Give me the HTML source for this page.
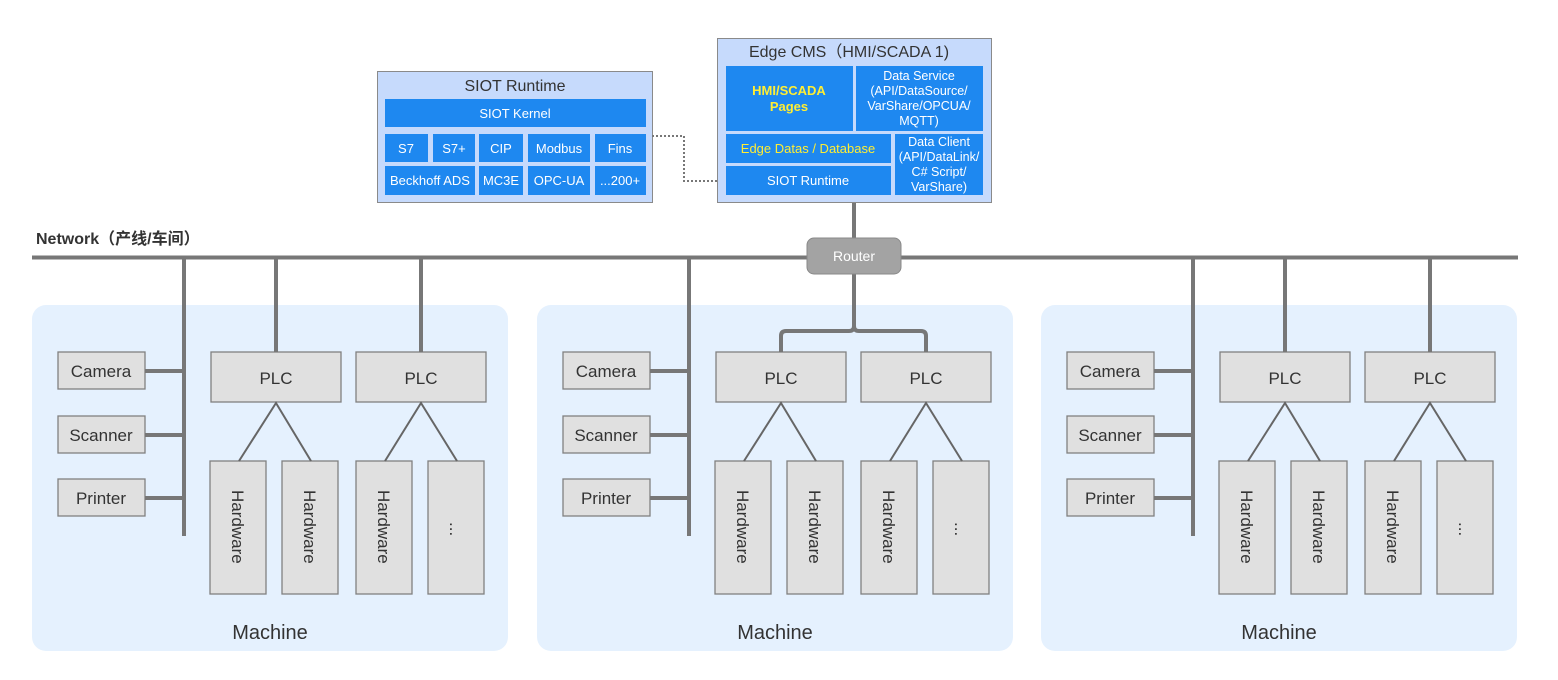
<!DOCTYPE html>
<html><head><meta charset="utf-8"><style>
html,body{margin:0;padding:0;background:#fff;}
svg{display:block;font-family:"Liberation Sans","Noto Sans CJK SC",sans-serif;}
</style></head><body>
<svg width="1558" height="680" viewBox="0 0 1558 680" xmlns="http://www.w3.org/2000/svg">
<defs>
<g id="mach">
  <rect x="32" y="305" width="476" height="346" rx="14" fill="#e5f1fe"/>
  <g fill="#e0e0e0" stroke="#808080" stroke-width="1.3">
    <rect x="58" y="352" width="87" height="37"/>
    <rect x="58" y="416" width="87" height="37"/>
    <rect x="58" y="479" width="87" height="37"/>
    <rect x="211" y="352" width="130" height="50"/>
    <rect x="356" y="352" width="130" height="50"/>
    <rect x="210" y="461" width="56" height="133"/>
    <rect x="282" y="461" width="56" height="133"/>
    <rect x="356" y="461" width="56" height="133"/>
    <rect x="428" y="461" width="56" height="133"/>
  </g>
  <g stroke="#777" stroke-width="4" fill="none">
    <line x1="184" y1="257" x2="184" y2="536"/>
    <line x1="145" y1="371" x2="184" y2="371"/>
    <line x1="145" y1="435" x2="184" y2="435"/>
    <line x1="145" y1="498" x2="184" y2="498"/>
  </g>
  <g stroke="#666" stroke-width="2" fill="none">
    <polyline points="239,461 276,403 311,461"/>
    <polyline points="385,461 421,403 457,461"/>
  </g>
  <g fill="#333" font-size="17" text-anchor="middle">
    <text x="101" y="377">Camera</text>
    <text x="101" y="441">Scanner</text>
    <text x="101" y="504">Printer</text>
    <text x="276" y="384">PLC</text>
    <text x="421" y="384">PLC</text>
    <text x="270" y="639" font-size="20">Machine</text>
  </g>
  <g fill="#333" font-size="17">
    <text transform="translate(232,490) rotate(90)">Hardware</text>
    <text transform="translate(304,490) rotate(90)">Hardware</text>
    <text transform="translate(378,490) rotate(90)">Hardware</text>
    <text transform="translate(450,522) rotate(90)">...</text>
  </g>
</g>
</defs>

<text x="36" y="244" font-size="16" font-weight="bold" fill="#333">Network（产线/车间）</text>
<line x1="32" y1="257.5" x2="1518" y2="257.5" stroke="#777" stroke-width="4"/>

<use href="#mach"/>
<use href="#mach" transform="translate(505,0)"/>
<use href="#mach" transform="translate(1009,0)"/>

<g stroke="#777" stroke-width="4" fill="none">
  <line x1="276" y1="257" x2="276" y2="352"/>
  <line x1="421" y1="257" x2="421" y2="352"/>
  <line x1="1285" y1="257" x2="1285" y2="352"/>
  <line x1="1430" y1="257" x2="1430" y2="352"/>
  <line x1="854" y1="202" x2="854" y2="240"/>
  <path d="M854 274 V326 Q854 331 849 331 H786 Q781 331 781 336 V352"/>
  <path d="M854 326 Q854 331 859 331 H921 Q926 331 926 336 V352"/>
</g>

<rect x="807" y="238" width="94" height="36" rx="7" fill="#a3a3a3" stroke="#888" stroke-width="1"/>
<text x="854" y="261" font-size="14" fill="#fff" text-anchor="middle">Router</text>

<!-- SIOT Runtime -->
<rect x="377.5" y="71.5" width="275" height="131" fill="#c6dafc" stroke="#8a8a8a"/>
<text x="515" y="91" font-size="16" fill="#333" text-anchor="middle">SIOT Runtime</text>
<g fill="#1e88f0">
  <rect x="385" y="99" width="261" height="28"/>
  <rect x="385" y="134" width="43" height="28"/>
  <rect x="433" y="134" width="42" height="28"/>
  <rect x="479" y="134" width="44" height="28"/>
  <rect x="528" y="134" width="62" height="28"/>
  <rect x="595" y="134" width="51" height="28"/>
  <rect x="385" y="166" width="90" height="29"/>
  <rect x="479" y="166" width="44" height="29"/>
  <rect x="528" y="166" width="62" height="29"/>
  <rect x="595" y="166" width="51" height="29"/>
</g>
<g fill="#fff" font-size="13" text-anchor="middle">
  <text x="515" y="118">SIOT Kernel</text>
  <text x="406" y="153">S7</text>
  <text x="454" y="153">S7+</text>
  <text x="501" y="153">CIP</text>
  <text x="559" y="153">Modbus</text>
  <text x="620" y="153">Fins</text>
  <text x="430" y="185">Beckhoff ADS</text>
  <text x="501" y="185">MC3E</text>
  <text x="559" y="185">OPC-UA</text>
  <text x="620" y="185">...200+</text>
</g>

<polyline points="652,136 684,136 684,181 726,181" fill="none" stroke="#777" stroke-width="2" stroke-dasharray="2,2"/>

<!-- Edge CMS -->
<rect x="717.5" y="38.5" width="274" height="164" fill="#c6dafc" stroke="#8a8a8a"/>
<text x="849" y="57" font-size="16" fill="#333" text-anchor="middle">Edge CMS（HMI/SCADA 1)</text>
<g fill="#1e88f0">
  <rect x="726" y="66" width="127" height="65"/>
  <rect x="856" y="66" width="127" height="65"/>
  <rect x="726" y="134" width="165" height="29"/>
  <rect x="726" y="166" width="165" height="29"/>
  <rect x="895" y="134" width="88" height="61"/>
</g>
<g font-size="13" text-anchor="middle">
  <text x="789" y="95" fill="#ffee33" font-weight="bold">HMI/SCADA</text>
  <text x="789" y="111" fill="#ffee33" font-weight="bold">Pages</text>
  <text x="808" y="153" fill="#ffee33">Edge Datas / Database</text>
  <text x="808" y="185" fill="#fff">SIOT Runtime</text>
  <g fill="#fff" font-size="12.5">
    <text x="919" y="80">Data Service</text>
    <text x="919" y="95">(API/DataSource/</text>
    <text x="919" y="110">VarShare/OPCUA/</text>
    <text x="919" y="125">MQTT)</text>
    <text x="939" y="146">Data Client</text>
    <text x="939" y="161">(API/DataLink/</text>
    <text x="939" y="176">C# Script/</text>
    <text x="939" y="191">VarShare)</text>
  </g>
</g>
</svg>
</body></html>
